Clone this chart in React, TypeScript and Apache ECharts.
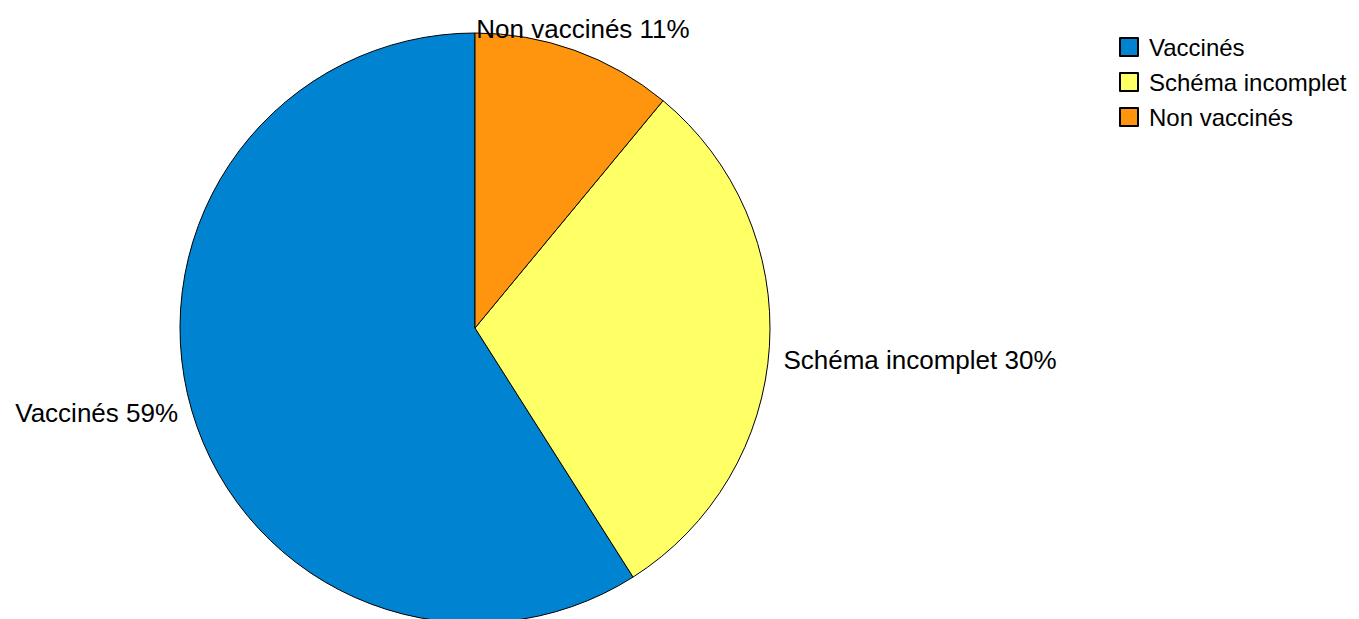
import React, { useEffect, useRef } from "react";
import * as echarts from "echarts";

// Vaccination status shares (percent)
const categories = ["Vaccinés", "Schéma incomplet", "Non vaccinés"];
const shares = [59, 30, 11];
const colors = ["#0084D1", "#FFFF66", "#FF950E"];

// Per-slice label anchoring relative to its outside anchor point
const labelAligns: [string, string][] = [
  ["right", "middle"],
  ["left", "top"],
  ["center", "bottom"],
];

export default function App() {
  const ref = useRef<HTMLDivElement>(null);

  useEffect(() => {
    if (!ref.current) return;
    const chart = echarts.init(ref.current, undefined, { renderer: "svg" });
    chart.setOption({
      animation: false,
      backgroundColor: "#ffffff",
      textStyle: { fontFamily: "Liberation Sans, Arial, sans-serif" },
      legend: {
        orient: "vertical",
        left: 1119,
        top: 35,
        padding: 0,
        itemWidth: 18,
        itemHeight: 18,
        itemGap: 11,
        icon: "rect",
        data: categories,
        textStyle: {
          fontSize: 24,
          lineHeight: 24,
          color: "#000",
          padding: [0, 0, 0, 6],
          fontFamily: "Liberation Sans, Arial, sans-serif",
        },
      },
      series: [
        {
          type: "pie",
          center: [475, 328],
          radius: 295,
          startAngle: 90,
          clockwise: false,
          avoidLabelOverlap: false,
          itemStyle: { borderColor: "#000", borderWidth: 1 },
          emphasis: { disabled: true },
          label: {
            show: true,
            position: "outside",
            formatter: (p: any) => `${p.name} ${p.value}%`,
            fontSize: 26,
            color: "#000",
            fontFamily: "Liberation Sans, Arial, sans-serif",
          },
          labelLine: { show: false, length: 9, length2: 0 },
          labelLayout: (p: any) => ({
            align: labelAligns[p.dataIndex][0],
            verticalAlign: labelAligns[p.dataIndex][1],
          }),
          data: categories.map((name, i) => ({
            name,
            value: shares[i],
            itemStyle: { color: colors[i] },
          })),
        },
      ],
    });
    return () => chart.dispose();
  }, []);

  return (
    <div
      ref={ref}
      style={{ position: "fixed", left: 0, top: 0, width: 1359, height: 619 }}
    />
  );
}
